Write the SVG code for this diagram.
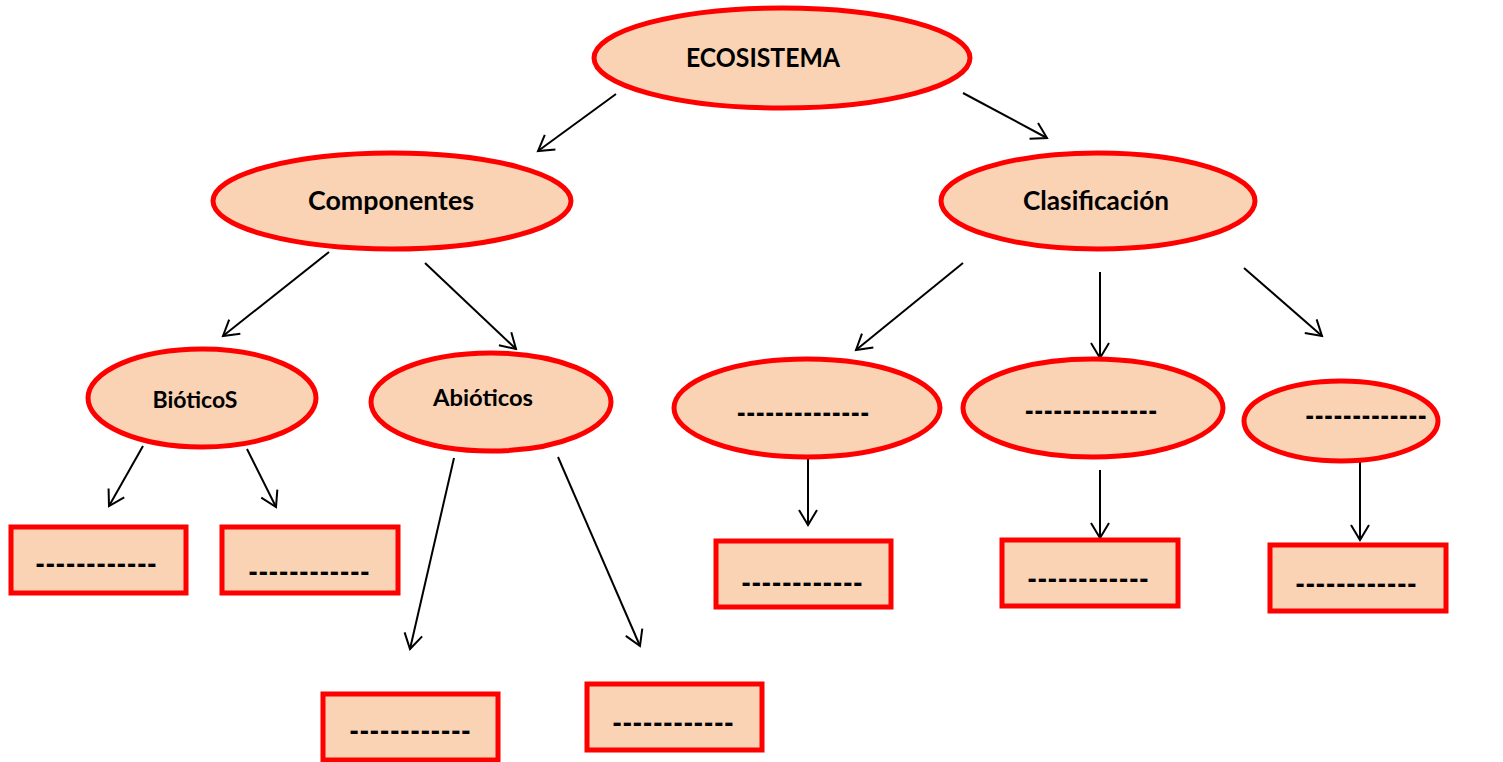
<svg xmlns="http://www.w3.org/2000/svg" width="1503" height="762" viewBox="0 0 1503 762">
<defs>
<style>
.n{fill:#F9D3B4;stroke:#FF0000;stroke-width:5}
.t{font-family:Lato,"Liberation Sans",sans-serif;font-weight:bold;fill:#000;text-anchor:middle}
.big{font-size:26px}
.sm{font-size:22px}
.d{font-size:32px}
.c{fill:none;stroke:#000;stroke-width:2;marker-end:url(#ah)}
</style>
<marker id="ah" markerUnits="userSpaceOnUse" markerWidth="40" markerHeight="40" viewBox="-20 -20 40 40" refX="0" refY="0" orient="auto">
<path d="M-15,-9 L0,0 L-15,9" fill="none" stroke="#000" stroke-width="2"/>
</marker>
</defs>
<rect width="1503" height="762" fill="#fff"/>
<g id="connectors">
<line class="c" x1="616" y1="94" x2="538" y2="151"/>
<line class="c" x1="963" y1="93" x2="1047" y2="138"/>
<line class="c" x1="329" y1="252" x2="223" y2="336"/>
<line class="c" x1="425" y1="263" x2="516" y2="349"/>
<line class="c" x1="963" y1="263" x2="856" y2="350"/>
<line class="c" x1="1100" y1="272" x2="1100" y2="358"/>
<line class="c" x1="1244" y1="268" x2="1322" y2="336"/>
<line class="c" x1="143" y1="446" x2="109" y2="506"/>
<line class="c" x1="247" y1="449" x2="276" y2="507"/>
<line class="c" x1="454" y1="458" x2="410" y2="649"/>
<line class="c" x1="558" y1="457" x2="640" y2="646"/>
<line class="c" x1="808" y1="458" x2="808" y2="525"/>
<line class="c" x1="1100" y1="470" x2="1100" y2="538"/>
<line class="c" x1="1360" y1="457" x2="1360" y2="540"/>
</g>
<g id="ecosistema">
<ellipse class="n" cx="782" cy="58" rx="188" ry="50"/>
<text class="t big" x="763" y="67" textLength="154" lengthAdjust="spacingAndGlyphs">ECOSISTEMA</text>
</g>
<g id="componentes">
<ellipse class="n" cx="392" cy="201" rx="179" ry="48"/>
<text class="t big" x="391" y="210" textLength="166" lengthAdjust="spacingAndGlyphs">Componentes</text>
</g>
<g id="clasificacion">
<ellipse class="n" cx="1098" cy="201" rx="157" ry="48"/>
<text class="t big" x="1096" y="210" textLength="146" lengthAdjust="spacingAndGlyphs">Clasificación</text>
</g>
<g id="bioticos">
<ellipse class="n" cx="202" cy="398" rx="114" ry="49"/>
<text class="t sm" x="195" y="408" textLength="85" lengthAdjust="spacingAndGlyphs">BióticoS</text>
</g>
<g id="abioticos">
<ellipse class="n" cx="491" cy="402" rx="120" ry="49"/>
<text class="t sm" x="483" y="406" textLength="100" lengthAdjust="spacingAndGlyphs">Abióticos</text>
</g>
<g id="clase1">
<ellipse class="n" cx="807" cy="408" rx="133" ry="49"/>
<text class="t d" x="803" y="424" textLength="133" lengthAdjust="spacingAndGlyphs">--------------</text>
</g>
<g id="clase2">
<ellipse class="n" cx="1093" cy="408" rx="130" ry="49"/>
<text class="t d" x="1091" y="422" textLength="133" lengthAdjust="spacingAndGlyphs">--------------</text>
</g>
<g id="clase3">
<ellipse class="n" cx="1341" cy="421" rx="97" ry="40"/>
<text class="t d" x="1366" y="427" textLength="122" lengthAdjust="spacingAndGlyphs">-------------</text>
</g>
<g id="box1">
<rect class="n" x="11" y="527" width="175" height="66"/>
<text class="t d" x="96" y="575" textLength="122" lengthAdjust="spacingAndGlyphs">------------</text>
</g>
<g id="box2">
<rect class="n" x="222" y="527" width="176" height="66"/>
<text class="t d" x="309" y="583" textLength="122" lengthAdjust="spacingAndGlyphs">------------</text>
</g>
<g id="box3">
<rect class="n" x="323" y="694" width="175" height="66"/>
<text class="t d" x="410" y="742" textLength="122" lengthAdjust="spacingAndGlyphs">------------</text>
</g>
<g id="box4">
<rect class="n" x="587" y="684" width="175" height="66"/>
<text class="t d" x="673" y="734" textLength="122" lengthAdjust="spacingAndGlyphs">------------</text>
</g>
<g id="box5">
<rect class="n" x="716" y="541" width="175" height="66"/>
<text class="t d" x="802" y="594" textLength="122" lengthAdjust="spacingAndGlyphs">------------</text>
</g>
<g id="box6">
<rect class="n" x="1002" y="540" width="176" height="66"/>
<text class="t d" x="1088" y="590" textLength="122" lengthAdjust="spacingAndGlyphs">------------</text>
</g>
<g id="box7">
<rect class="n" x="1270" y="545" width="176" height="66"/>
<text class="t d" x="1356" y="595" textLength="122" lengthAdjust="spacingAndGlyphs">------------</text>
</g>
</svg>
